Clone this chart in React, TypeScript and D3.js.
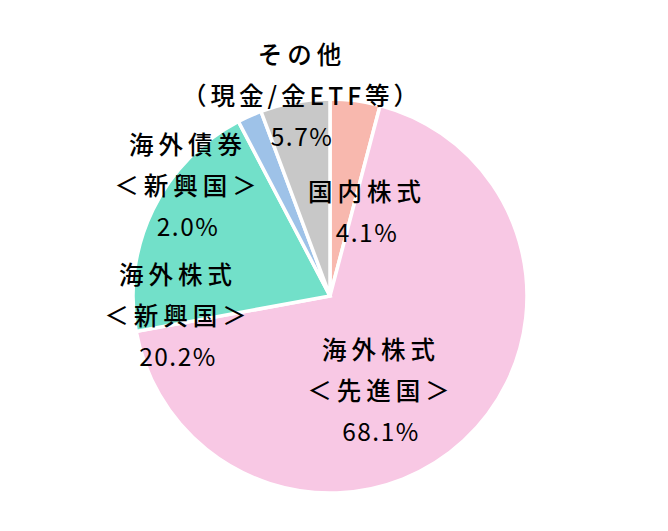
import React from "react";
import * as d3 from "d3";

const categories = ["国内株式", "海外株式（先進国）", "海外株式（新興国）", "海外債券（新興国）", "その他（現金/金ETF等）"];
const values = [4.1, 68.1, 20.2, 2.0, 5.7];
const valueLabels = ["4.1%", "68.1%", "20.2%", "2.0%", "5.7%"];
const labelLines = [
  ["国内株式"],
  ["海外株式", "＜先進国＞"],
  ["海外株式", "＜新興国＞"],
  ["海外債券", "＜新興国＞"],
  ["その他", "（現金/金ETF等）"],
];
const colors = ["#F8B8AE", "#F8C8E4", "#72E0C9", "#9EC2E8", "#C8C8C8"];

// label anchor (center of first line) relative to pie center
const labelOffsets = [
  [37, -106],
  [51, 52],
  [-152, -23],
  [-142, -153],
  [-28, -243],
];

const W = 668;
const H = 531;
const cx = 330;
const cy = 296;
const R = 197;
const lineGap = 41;

export default function App() {
  const pie = d3.pie<number>().sort(null).value((d) => d)(values);
  const arc = d3.arc<d3.PieArcDatum<number>>().innerRadius(0).outerRadius(R);
  return (
    <svg width={W} height={H} style={{ position: "absolute", left: 0, top: 0, background: "#fff" }}>
      <g transform={`translate(${cx},${cy})`}>
        {pie.map((p, i) => (
          <path key={i} d={arc(p) || ""} fill={colors[i]} stroke="#fff" strokeWidth={3.5} strokeLinejoin="miter" />
        ))}
        {labelLines.map((lines, i) => {
          const [ox, oy] = labelOffsets[i];
          const all = [...lines, valueLabels[i]];
          return (
            <g key={i}>
              {all.map((t, j) => {
                const isValue = j === all.length - 1;
                return (
                  <text
                    key={j}
                    x={ox}
                    y={oy + j * lineGap}
                    textAnchor="middle"
                    dominantBaseline="central"
                    fontFamily="'Noto Sans CJK JP', sans-serif"
                    fontWeight={isValue ? 400 : 500}
                    fontSize={24.5}
                    letterSpacing={isValue ? 1.5 : t.includes("ETF") ? 4 : 5}
                    fill="#000"
                  >
                    {t}
                  </text>
                );
              })}
            </g>
          );
        })}
      </g>
    </svg>
  );
}
